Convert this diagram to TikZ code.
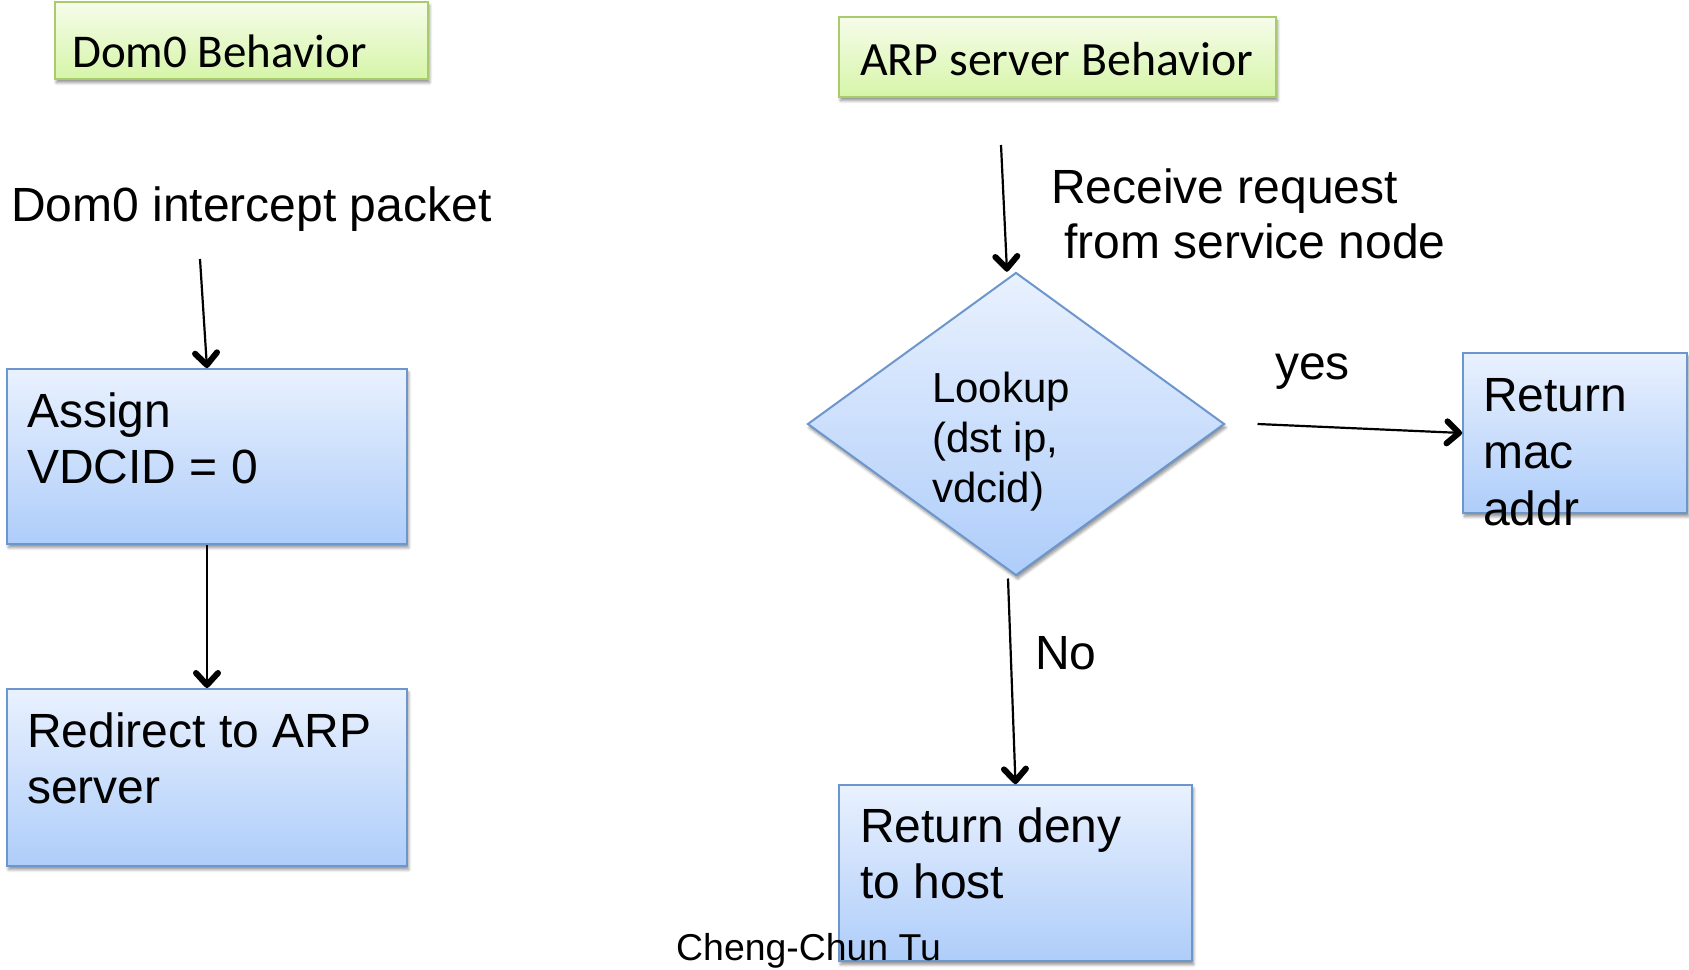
\documentclass[tikz,border=0pt]{standalone}
\usepackage{fontspec}
\setmainfont{Liberation Sans}
\newfontfamily\titlefont{Carlito}
\usetikzlibrary{shapes.geometric,shadows.blur,decorations.markings}

\definecolor{boxtop}{RGB}{233,241,254}
\definecolor{boxbot}{RGB}{174,205,250}
\definecolor{boxline}{RGB}{108,150,204}
\definecolor{tagtop}{RGB}{246,252,234}
\definecolor{tagbot}{RGB}{214,245,168}
\definecolor{tagline}{RGB}{168,204,108}

\begin{document}
\begin{tikzpicture}[x=1pt,y=-1pt,
  softshadow/.style={blur shadow={shadow xshift=1.5pt,shadow yshift=-3.5pt,
      shadow blur radius=3pt,shadow blur steps=6,shadow opacity=45}},
  flowbox/.style 2 args={draw=boxline,line width=2pt,top color=boxtop,
      bottom color=boxbot,softshadow,inner sep=0pt,
      minimum width=#1pt,minimum height=#2pt},
  tagbox/.style 2 args={draw=tagline,line width=2pt,top color=tagtop,
      bottom color=tagbot,softshadow,inner sep=0pt,
      minimum width=#1pt,minimum height=#2pt},
  decision/.style={diamond,draw=boxline,line width=2pt,top color=boxtop,
      bottom color=boxbot,softshadow,inner sep=0pt,
      minimum width=417pt,minimum height=303pt},
  bigtext/.style={font=\fontsize{48}{56}\selectfont,inner sep=0pt,align=left},
  smalltext/.style={font=\fontsize{42}{50}\selectfont,inner sep=0pt,align=left},
  titletext/.style={font=\titlefont\fontsize{47}{56}\selectfont,inner sep=0pt},
  % thin shaft with a bold open barb at its end
  flow/.style={line width=2.2pt,postaction={decorate},
      decoration={markings,mark=at position 1 with {
        \draw[line width=6pt,line join=round,line cap=round]
          (-15pt,-11pt) -- (-3pt,0pt) -- (-15pt,11pt);}}}]

\useasboundingbox (0,0) rectangle (1689,969);

% ---------- left column: Dom0 ----------
\node[tagbox={373}{77}] (dom0tag) at (241.5,40.5) {};
\node[titletext,anchor=base west] (dom0title) at (72,67) {Dom0 Behavior};

\node[bigtext,anchor=base west] (intercept) at (11,221) {Dom0 intercept packet};
\coordinate (interceptout) at (200,259);

\node[flowbox={400}{175}] (assign) at (207,456.5) {};
\node[bigtext,anchor=north west] (assigntext) at (27,387)
  {\rule{0pt}{40pt}Assign\\VDCID = 0};

\node[flowbox={400}{177}] (redirect) at (207,777.5) {};
\node[bigtext,anchor=north west] (redirecttext) at (27,707)
  {\rule{0pt}{40pt}Redirect to ARP\\server};

\draw[flow] (interceptout) -- (assign.north);
\draw[flow] (assign.south) -- (redirect.north);

% ---------- right column: ARP server ----------
\node[tagbox={437}{80}] (arptag) at (1057.5,57) {};
\node[titletext,anchor=base west,font=\titlefont\fontsize{47.8}{56}\selectfont]
  (arptitle) at (860,75) {ARP server Behavior};

\node[bigtext,anchor=north west,font=\fontsize{48}{55}\selectfont] (receive) at (1051,163)
  {\rule{0pt}{40pt}Receive request\\\hspace*{13pt}from service node};
\coordinate (receivein) at (1001,145);

\node[decision] (lookup) at (1016,424) {};
\node[smalltext,anchor=north west] (lookuptext) at (932,367)
  {\rule{0pt}{35pt}Lookup\\(dst ip,\\vdcid)};

\node[flowbox={224}{160}] (retmac) at (1575,433) {};
\node[bigtext,anchor=north west,font=\fontsize{48}{57}\selectfont] (retmactext) at (1483,371)
  {\rule{0pt}{40pt}Return\\mac\\addr};

\node[flowbox={353}{176}] (retdeny) at (1015.5,873) {};
\node[bigtext,anchor=north west] (retdenytext) at (860,802)
  {\rule{0pt}{40pt}Return deny\\to host};

\draw[flow] (receivein) -- ([xshift=-9pt]lookup.north);
\draw[flow] ([xshift=32pt]lookup.east) -- (retmac.west);
\draw[flow] ([xshift=-8pt,yshift=-2pt]lookup.south) -- (retdeny.north);

\node[bigtext,anchor=base west] (yes) at (1275,379) {yes};
\node[bigtext,anchor=base west] (no) at (1035,669) {No};

% ---------- footer ----------
\node[font=\fontsize{37.4}{44}\selectfont,inner sep=0pt,anchor=base west] (author)
  at (676,960) {Cheng-Chun Tu};

\end{tikzpicture}
\end{document}
